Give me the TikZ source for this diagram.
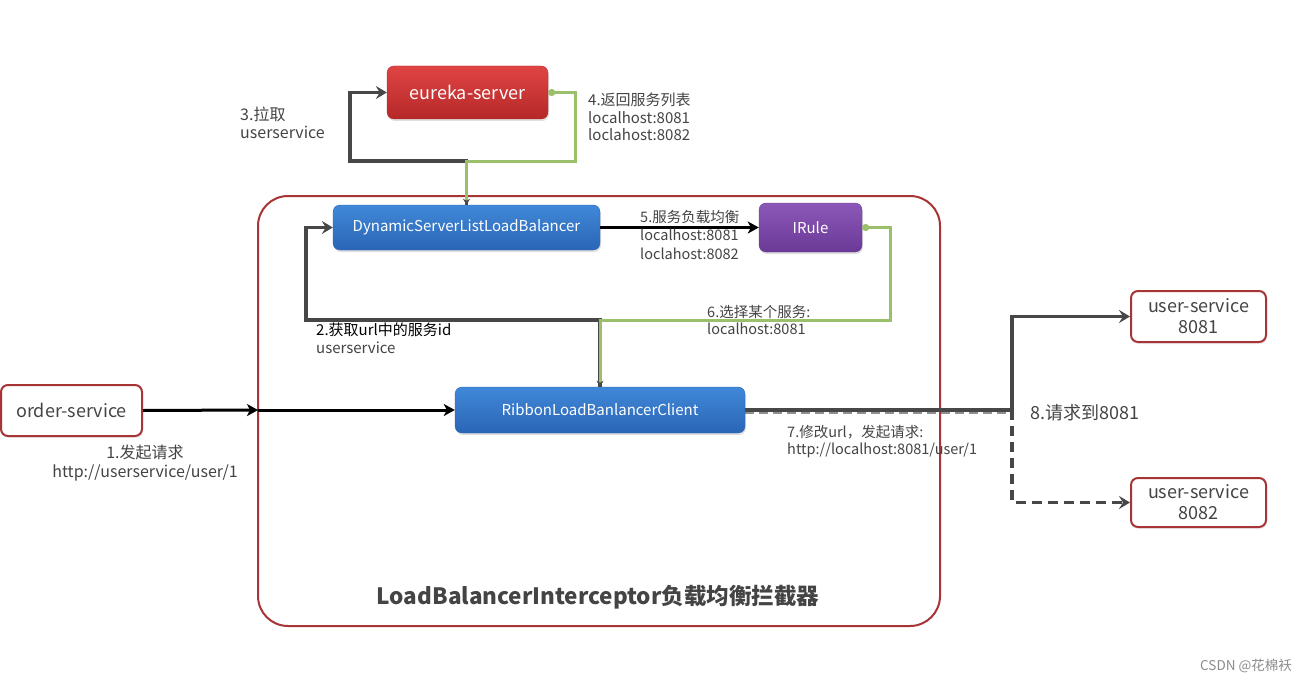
\documentclass[tikz,border=0pt]{standalone}
\usepackage{fontspec}
\setmainfont{Noto Sans CJK SC}
\usetikzlibrary{arrows.meta,shadows,calc}
\definecolor{txt}{HTML}{444444}
\definecolor{dline}{HTML}{474747}
\definecolor{gline}{HTML}{9BC06B}
\definecolor{bred}{HTML}{A83535}
\definecolor{redtop}{HTML}{E04444}
\definecolor{redbot}{HTML}{B52828}
\definecolor{bluetop}{HTML}{4188D8}
\definecolor{bluebot}{HTML}{2A65B6}
\definecolor{purtop}{HTML}{8C58B8}
\definecolor{purbot}{HTML}{6A3996}
\begin{document}
\begin{tikzpicture}[x=1pt,y=-1pt,
  fbox/.style={rounded corners=7pt, inner sep=0pt, text=white,
    drop shadow={opacity=0.25, shadow xshift=1pt, shadow yshift=-2pt}},
  redbox/.style={fbox, top color=redtop, bottom color=redbot, draw=redbot, font=\fontsize{18}{20}\selectfont},
  bluebox/.style={fbox, top color=bluetop, bottom color=bluebot, draw=bluebot, font=\fontsize{15}{18}\selectfont},
  purbox/.style={fbox, top color=purtop, bottom color=purbot, draw=purbot, font=\fontsize{15}{18}\selectfont},
  wbox/.style={rounded corners=7pt, inner sep=0pt, draw=bred, line width=2pt, fill=white, text=txt,
    align=center, font=\fontsize{18}{21}\selectfont,
    drop shadow={opacity=0.15, shadow xshift=1pt, shadow yshift=-2pt}},
  darr/.style={draw=dline, line width=3.2pt, -{Stealth[length=11pt,width=13pt,inset=4pt]}},
  barr/.style={draw=black, line width=3pt, -{Stealth[length=11pt,width=12pt,inset=3pt]}},
  garr/.style={draw=gline, line width=3pt, {Circle[length=7pt,fill=gline]}-{Stealth[length=6pt,width=7pt,color=dline]}},
  lbl/.style={inner sep=0pt, anchor=north west, align=left, text=txt},
]
\useasboundingbox (0,0) rectangle (1313,682);
\fill[white] (0,0) rectangle (1313,682);

% container
\draw[bred, line width=2pt, rounded corners=30pt] (258,196) rectangle (940,626);
\node (title) [inner sep=0pt, text=txt, font=\bfseries\fontsize{22.5}{24}\selectfont] at (598,597) {LoadBalancerInterceptor负载均衡拦截器};

% nodes
\node (eureka) [redbox, minimum width=161pt, minimum height=53pt] at (467.5,92.5) {eureka-server};
\node (dslb) [bluebox, minimum width=267pt, minimum height=45pt] at (466.5,227.5) {DynamicServerListLoadBalancer};
\node (irule) [purbox, minimum width=103pt, minimum height=49pt] at (810.5,227.5) {IRule};
\node (ribbon) [bluebox, minimum width=290pt, minimum height=46pt] at (600,410) {RibbonLoadBanlancerClient};
\node (order) [wbox, minimum width=141pt, minimum height=51pt] at (71.5,410.5) {order-service};
\node (us1) [wbox, minimum width=135pt, minimum height=51pt] at (1198.5,316.5) {user-service\\8081};
\node (us2) [wbox, minimum width=135pt, minimum height=49pt] at (1198.5,502.5) {user-service\\8082};

% connectors
\draw[darr] (dslb.north) |- (350,161) |- (eureka.west);
\draw[garr] (eureka.east) -| (575,161) -| (dslb.north);
\draw[barr] (dslb.east) -- (irule.west);
\draw[darr] (ribbon.north) |- (306,320) |- (dslb.west);
\draw[garr] (irule.east) -| (890,320) -| (ribbon.north);
\coordinate (cin) at (258,410);
\draw[barr] (order.east) -- (cin);
\draw[barr] (cin) -- (ribbon.west);
\coordinate (split) at (1012,410);
\draw[draw=dline, line width=3.2pt, dash pattern=on 9pt off 5pt, opacity=0.6] ($(ribbon.east)+(0,2)$) -- ($(split)+(0,2)$);
\draw[draw=dline, line width=3.2pt] (ribbon.east) -- (split);
\draw[darr] (split) |- (us1.west);
\draw[darr, dash pattern=on 10pt off 6pt] (split) |- (us2.west);

% labels
\node[lbl, font=\fontsize{16}{18}\selectfont] (l3) at (240,107) {3.拉取\\userservice};
\node[lbl, font=\fontsize{15}{17.5}\selectfont] (l4) at (588,93) {4.返回服务列表\\localhost:8081\\loclahost:8082};
\node[lbl, font=\fontsize{14.5}{18.5}\selectfont] (l5) at (640,210) {5.服务负载均衡\\localhost:8081\\loclahost:8082};
\node[lbl, font=\fontsize{14.5}{17}\selectfont] (l6) at (707,305) {6.选择某个服务:\\localhost:8081};
\node[lbl, font=\fontsize{15}{18}\selectfont] (l2) at (316,323) {\textcolor{black}{2.获取url中的服务id}\\userservice};
\node[inner sep=0pt, anchor=north, align=center, text=txt, font=\fontsize{16}{19}\selectfont] (l1) at (145,445) {1.发起请求\\http://userservice/user/1};
\node[lbl, font=\fontsize{14.5}{17}\selectfont] (l7) at (787,425) {7.修改url，发起请求:\\http://localhost:8081/user/1};
\node[lbl, anchor=west, font=\fontsize{18}{20}\selectfont] (l8) at (1030,413) {8.请求到8081};
\node[inner sep=0pt, anchor=west, text=black!45, font=\fontsize{13.5}{14}\selectfont] (wm) at (1200,666) {CSDN @花棉袄};
\end{tikzpicture}
\end{document}
